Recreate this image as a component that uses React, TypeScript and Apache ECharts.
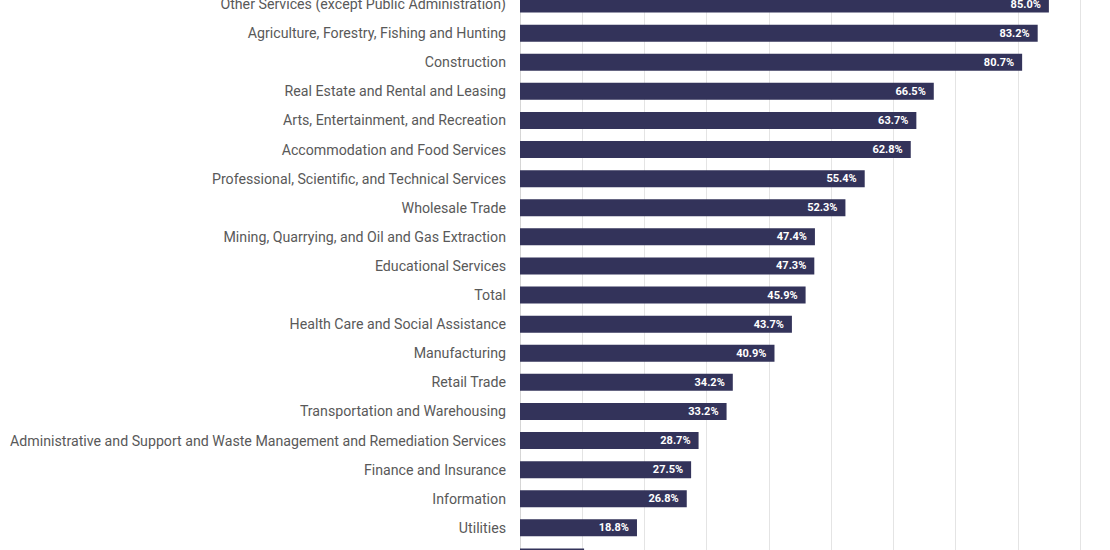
import React, { useEffect, useRef } from "react";
import * as echarts from "echarts";

// Industries, ordered top to bottom
const industries: string[] = [
  "Other Services (except Public Administration)",
  "Agriculture, Forestry, Fishing and Hunting",
  "Construction",
  "Real Estate and Rental and Leasing",
  "Arts, Entertainment, and Recreation",
  "Accommodation and Food Services",
  "Professional, Scientific, and Technical Services",
  "Wholesale Trade",
  "Mining, Quarrying, and Oil and Gas Extraction",
  "Educational Services",
  "Total",
  "Health Care and Social Assistance",
  "Manufacturing",
  "Retail Trade",
  "Transportation and Warehousing",
  "Administrative and Support and Waste Management and Remediation Services",
  "Finance and Insurance",
  "Information",
  "Utilities",
  "",
];

// Share, in percent
const shares: number[] = [
  85.0, 83.2, 80.7, 66.5, 63.7, 62.8, 55.4, 52.3, 47.4, 47.3, 45.9, 43.7,
  40.9, 34.2, 33.2, 28.7, 27.5, 26.8, 18.8, 10.3,
];

const xMin = 0;
const xMax = 90;
const xStep = 10;

export default function App() {
  const ref = useRef<HTMLDivElement>(null);

  useEffect(() => {
    if (!ref.current) return;
    const chart = echarts.init(ref.current, undefined, { renderer: "svg" });
    chart.setOption({
      animation: false,
      backgroundColor: "#ffffff",
      grid: { left: 520, right: 30, top: 29.5, height: 582 },
      xAxis: {
        type: "value",
        min: xMin,
        max: xMax,
        interval: xStep,
        axisLine: { show: false },
        axisTick: { show: false },
        axisLabel: { show: false },
        splitLine: { lineStyle: { color: "#e4e4e4", width: 1 } },
      },
      yAxis: {
        type: "category",
        inverse: true,
        data: industries,
        axisLine: { show: true, lineStyle: { color: "#d4d4d4", type: "dotted" } },
        axisTick: { show: false },
        axisLabel: {
          color: "#595959",
          fontFamily: "Roboto, sans-serif",
          fontSize: 14.2,
          margin: 14,
        },
      },
      series: [
        {
          type: "bar",
          data: shares,
          barWidth: 17,
          itemStyle: { color: "#33335a" },
          label: {
            show: true,
            position: "insideRight",
            distance: 8,
            color: "#ffffff",
            fontFamily: "Roboto, sans-serif",
            fontWeight: "bold",
            fontSize: 11,
            formatter: (p: any) => `${Number(p.value).toFixed(1)}%`,
          },
        },
      ],
    });
    return () => chart.dispose();
  }, []);

  return (
    <div
      style={{
        position: "fixed",
        left: 0,
        top: 0,
        width: 1110,
        height: 550,
        overflow: "hidden",
        background: "#ffffff",
      }}
    >
      <div
        ref={ref}
        style={{ position: "absolute", left: 0, top: -40, width: 1110, height: 640 }}
      />
    </div>
  );
}
